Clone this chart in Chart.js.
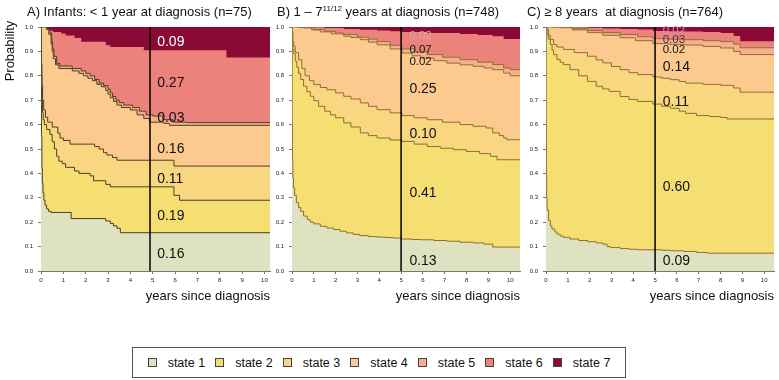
<!DOCTYPE html>
<html>
<head>
<meta charset="utf-8">
<script src="https://cdn.jsdelivr.net/npm/chart.js@4.4.0/dist/chart.umd.min.js"></script>
<style>
  body { margin: 0; background: #fff; font-family: "Liberation Sans", Arial, sans-serif; }
  #wrap { position: relative; width: 779px; height: 380px; overflow: hidden; }
  canvas { position: absolute; top: 0; }
  .title { position: absolute; top: 4px; font-size: 13px; line-height: 16px; color: #111; white-space: pre; }
  .title sup { font-size: 8px; vertical-align: 5px; line-height: 0; }
  #ylab { position: absolute; left: -30px; top: 43px; width: 80px; height: 16px; line-height: 16px;
          text-align: center; font-size: 13px; transform: rotate(-90deg); color: #111; }
  #legend { position: absolute; left: 132px; top: 347px; width: 492px; height: 29px;
            border: 1px solid #555; display: flex; align-items: center; justify-content: center; }
  .item { display: flex; align-items: center; margin: 0 5px; font-size: 12.5px; color: #111;
          white-space: nowrap; flex-shrink: 0; }
  .sq { width: 7px; height: 7px; border: 1px solid #444; margin-right: 11px; flex-shrink: 0; }
</style>
</head>
<body>
<div id="wrap">
  <canvas id="chartA" width="272" height="305" style="left:0px"></canvas>
  <canvas id="chartB" width="250" height="305" style="left:272px"></canvas>
  <canvas id="chartC" width="253" height="305" style="left:526px"></canvas>
  <div class="title" style="left:27px">A) Infants: &lt; 1 year at diagnosis (n=75)</div>
  <div class="title" style="left:277px">B) 1 – 7<sup>11/12</sup> years at diagnosis (n=748)</div>
  <div class="title" style="left:527px">C) ≥ 8 years  at diagnosis (n=764)</div>
  <div id="ylab">Probability</div>
  <div id="legend"></div>
</div>
<script>
// states, bottom to top
const stateNames = ['state 1', 'state 2', 'state 3', 'state 4', 'state 5', 'state 6', 'state 7'];
const stateColors = ['#dfe2c1', '#f5de72', '#f9d680', '#fcc98e', '#f7b08f', '#ec827c', '#8b0a35'];

const xTicks = [0, 1, 2, 3, 4, 5, 6, 7, 8, 9, 10];
const yTicks = [0, 0.1, 0.2, 0.3, 0.4, 0.5, 0.6, 0.7, 0.8, 0.9, 1.0];

// cumulative probability curves [years, P(state <= k)]
// A) infants
const aCum1 = [[0,1],[0.01,0.75],[0.02,0.55],[0.04,0.42],[0.06,0.36],[0.09,0.32],[0.13,0.29],[0.18,0.27],[0.25,0.255],[0.33,0.245],[0.45,0.24],[1.35,0.215],[2.9,0.205],[3.1,0.195],[3.25,0.185],[3.4,0.175],[3.55,0.157],[10.25,0.157]];
const aCum2 = [[0,1],[0.01,0.9],[0.02,0.8],[0.04,0.7],[0.07,0.65],[0.1,0.62],[0.15,0.6],[0.25,0.58],[0.4,0.56],[0.5,0.53],[0.6,0.5],[0.7,0.47],[0.8,0.45],[0.95,0.44],[1.1,0.425],[1.5,0.41],[1.7,0.4],[2.2,0.39],[2.35,0.37],[2.9,0.355],[3.1,0.345],[5.95,0.31],[6.2,0.29],[10.25,0.29]];
const aCum3 = [[0,1],[0.01,0.93],[0.02,0.85],[0.04,0.76],[0.07,0.7],[0.12,0.66],[0.2,0.63],[0.3,0.61],[0.5,0.59],[0.75,0.565],[0.85,0.545],[1.0,0.535],[1.3,0.52],[2.4,0.51],[2.6,0.5],[2.8,0.485],[2.95,0.475],[3.2,0.465],[3.4,0.454],[5.95,0.43],[10.25,0.43]];
const aCum4 = [[0,1],[0.25,0.99],[0.35,0.97],[0.45,0.93],[0.5,0.9],[0.55,0.87],[0.65,0.845],[0.8,0.83],[1.4,0.82],[1.7,0.81],[1.9,0.8],[2.1,0.79],[2.3,0.78],[2.5,0.765],[2.7,0.755],[2.9,0.74],[3.0,0.725],[3.1,0.71],[3.25,0.695],[3.4,0.68],[3.6,0.67],[4.0,0.66],[4.3,0.64],[4.6,0.625],[4.85,0.61],[5.5,0.605],[5.75,0.597],[10.25,0.597]];
const aCum5 = [[0,1],[0.3,0.99],[0.4,0.975],[0.48,0.94],[0.52,0.91],[0.58,0.88],[0.7,0.85],[0.85,0.84],[1.4,0.83],[1.8,0.82],[2.0,0.81],[2.2,0.8],[2.4,0.785],[2.6,0.77],[2.8,0.76],[3.0,0.745],[3.1,0.73],[3.2,0.715],[3.35,0.7],[3.5,0.69],[3.7,0.68],[4.1,0.67],[4.4,0.655],[4.7,0.64],[5.0,0.635],[5.45,0.62],[5.9,0.61],[6.5,0.608],[10.25,0.608]];
const aCum6 = [[0,1],[0.1,0.995],[0.2,0.99],[0.4,0.985],[0.55,0.98],[0.9,0.973],[1.1,0.965],[1.5,0.955],[1.8,0.94],[2.9,0.925],[3.1,0.918],[4.6,0.905],[8.3,0.875],[10.25,0.875]];

// B) 1 - 7 11/12 years
const bCum1 = [[0,1],[0.01,0.6],[0.02,0.45],[0.04,0.38],[0.07,0.34],[0.12,0.31],[0.2,0.28],[0.3,0.26],[0.4,0.245],[0.53,0.225],[0.7,0.21],[0.84,0.2],[1.0,0.193],[1.3,0.183],[1.6,0.176],[1.9,0.17],[2.2,0.163],[2.5,0.156],[2.8,0.15],[3.1,0.145],[3.5,0.141],[3.9,0.139],[4.3,0.137],[4.65,0.135],[5.0,0.131],[5.5,0.129],[5.9,0.128],[6.5,0.125],[7.1,0.122],[7.7,0.118],[8.3,0.115],[8.8,0.11],[9.2,0.098],[10.45,0.098]];
const bCum2 = [[0,1],[0.01,0.96],[0.03,0.91],[0.08,0.89],[0.15,0.86],[0.22,0.835],[0.3,0.81],[0.4,0.785],[0.53,0.757],[0.68,0.735],[0.84,0.716],[1.0,0.698],[1.22,0.675],[1.5,0.655],[1.76,0.64],[2.0,0.628],[2.37,0.607],[2.7,0.59],[3.13,0.566],[3.5,0.555],[3.9,0.545],[4.5,0.537],[5.04,0.531],[5.6,0.52],[6.2,0.51],[6.8,0.503],[7.4,0.497],[8.0,0.49],[8.6,0.481],[9.1,0.47],[9.4,0.456],[10.45,0.456]];
const bCum3 = [[0,1],[0.01,0.98],[0.04,0.94],[0.08,0.92],[0.15,0.895],[0.3,0.866],[0.45,0.83],[0.6,0.8],[0.8,0.78],[1.0,0.764],[1.3,0.752],[1.6,0.743],[2.0,0.73],[2.37,0.716],[2.7,0.705],[3.13,0.689],[3.5,0.675],[3.9,0.661],[4.5,0.648],[5.04,0.637],[5.6,0.628],[6.2,0.62],[6.9,0.61],[7.7,0.6],[8.3,0.593],[8.9,0.586],[9.2,0.566],[9.5,0.555],[9.7,0.545],[9.85,0.538],[10.45,0.538]];
const bCum4 = [[0,1],[0.3,0.998],[0.53,0.996],[0.9,0.988],[1.3,0.98],[1.8,0.972],[2.37,0.962],[2.7,0.957],[3.13,0.948],[3.5,0.938],[3.9,0.927],[4.5,0.91],[5.04,0.893],[5.5,0.882],[5.9,0.873],[6.5,0.862],[7.1,0.852],[7.7,0.845],[8.3,0.839],[8.8,0.832],[9.2,0.825],[9.7,0.811],[10.0,0.8],[10.45,0.8]];
const bCum5 = [[0,1],[0.3,0.999],[0.53,0.997],[1.0,0.99],[1.5,0.982],[2.0,0.975],[2.37,0.969],[3.0,0.958],[3.5,0.95],[3.9,0.94],[4.5,0.925],[5.04,0.91],[5.6,0.898],[6.2,0.887],[6.9,0.876],[7.7,0.866],[8.5,0.856],[9.2,0.846],[9.7,0.832],[10.0,0.825],[10.45,0.825]];
const bCum6 = [[0,1],[0.84,0.999],[1.5,0.996],[2.37,0.992],[3.1,0.989],[3.9,0.986],[4.5,0.983],[5.04,0.98],[6.2,0.975],[7.7,0.971],[8.5,0.967],[9.2,0.962],[9.7,0.951],[10.45,0.951]];

// C) >= 8 years
const cCum1 = [[0,1],[0.01,0.6],[0.02,0.4],[0.03,0.3],[0.05,0.25],[0.12,0.206],[0.2,0.185],[0.27,0.172],[0.4,0.16],[0.5,0.151],[0.65,0.143],[0.8,0.138],[1.1,0.131],[1.5,0.125],[1.9,0.12],[2.3,0.115],[2.6,0.11],[2.8,0.1],[2.95,0.096],[3.4,0.092],[3.8,0.089],[4.2,0.087],[5.3,0.085],[5.7,0.083],[6.3,0.08],[6.9,0.076],[7.4,0.073],[10.45,0.073]];
const cCum2 = [[0,1],[0.02,0.99],[0.05,0.97],[0.1,0.95],[0.2,0.928],[0.28,0.905],[0.35,0.887],[0.5,0.867],[0.65,0.855],[0.8,0.846],[1.1,0.825],[1.5,0.8],[1.9,0.777],[2.3,0.757],[2.6,0.746],[2.9,0.736],[3.4,0.715],[3.8,0.703],[4.2,0.695],[4.9,0.684],[5.3,0.675],[5.7,0.667],[6.1,0.655],[6.4,0.646],[6.9,0.637],[7.5,0.633],[8.0,0.629],[8.3,0.623],[10.45,0.623]];
const cCum3 = [[0,1],[0.05,0.99],[0.12,0.965],[0.2,0.949],[0.35,0.928],[0.5,0.918],[0.8,0.908],[1.3,0.895],[1.9,0.88],[2.3,0.865],[2.6,0.853],[3.0,0.838],[3.4,0.825],[3.8,0.813],[4.2,0.805],[4.9,0.795],[5.3,0.79],[5.7,0.784],[6.1,0.777],[6.4,0.77],[7.2,0.765],[8.0,0.761],[8.6,0.75],[8.9,0.733],[10.45,0.733]];
const cCum4 = [[0,1],[0.3,0.999],[0.65,0.997],[1.2,0.988],[1.9,0.977],[2.6,0.966],[3.4,0.956],[4.1,0.944],[4.9,0.932],[5.6,0.929],[6.4,0.926],[7.2,0.92],[8.0,0.914],[8.6,0.9],[8.9,0.887],[10.45,0.887]];
const cCum5 = [[0,1],[0.6,0.999],[1.2,0.993],[1.9,0.985],[2.6,0.977],[3.4,0.969],[4.2,0.96],[4.9,0.952],[5.6,0.95],[6.4,0.948],[7.2,0.944],[8.0,0.94],[8.6,0.93],[8.9,0.915],[10.45,0.915]];
const cCum6 = [[0,1],[1.1,0.999],[1.9,0.997],[2.6,0.994],[3.4,0.992],[4.2,0.99],[4.9,0.984],[5.6,0.983],[6.4,0.982],[7.2,0.979],[8.0,0.975],[8.6,0.963],[8.9,0.942],[10.45,0.942]];

// state probabilities at 5 years, printed right of the marker line (top to bottom)
const aLabels = ['0.09', '0.27', '0.03', '0.16', '0.11', '0.19', '0.16'];
const aLabelY = [0.937, 0.77, 0.625, 0.50, 0.378, 0.224, 0.071];
const bLabels = ['0.02', '0.07', '0.02', '0.25', '0.10', '0.41', '0.13'];
const bLabelY = [0.962, 0.907, 0.857, 0.746, 0.559, 0.32, 0.04];
const cLabels = ['0.02', '0.03', '0.02', '0.14', '0.11', '0.60', '0.09'];
const cLabelY = [0.983, 0.949, 0.908, 0.836, 0.69, 0.344, 0.041];

// legend
const legendEl = document.getElementById('legend');
stateNames.forEach(function (name, i) {
    const item = document.createElement('div');
    item.className = 'item';
    item.innerHTML = '<span class="sq" style="background:' + stateColors[i] + '"></span>' + name;
    legendEl.appendChild(item);
});

function toPoints(pairs) {
    return pairs.map(p => ({ x: p[0], y: p[1] }));
}

// vertical line at 5 years + the printed probabilities
const markerPlugin = {
    id: 'marker',
    afterDatasetsDraw(chart, args, opts) {
        const ctx = chart.ctx;
        const xs = chart.scales.x, ys = chart.scales.y;
        const px = xs.getPixelForValue(opts.year);
        ctx.save();
        ctx.strokeStyle = '#000';
        ctx.lineWidth = 1.5;
        ctx.beginPath();
        ctx.moveTo(px, ys.getPixelForValue(0));
        ctx.lineTo(px, ys.getPixelForValue(1));
        ctx.stroke();
        ctx.textAlign = 'left';
        ctx.textBaseline = 'middle';
        const lx = xs.getPixelForValue(opts.labelX);
        opts.labels.forEach(function (txt, i) {
            ctx.font = opts.sizes[i] + 'px "Liberation Sans", Arial, sans-serif';
            ctx.fillStyle = opts.colors[i];
            ctx.fillText(txt, lx, ys.getPixelForValue(opts.labelY[i]));
        });
        ctx.restore();
    }
};

function makePanel(id, curves, xMax, lineColor, yWidth, padRight, marker) {
    const datasets = curves.map(function (c, i) {
        return {
            data: toPoints(c),
            stepped: true,
            fill: 'origin',
            backgroundColor: stateColors[i],
            borderColor: lineColor,
            borderWidth: i === 5 ? 0 : 1,
            pointRadius: 0
        };
    });
    // state 7 fills everything above the last curve
    datasets.push({
        data: toPoints([[0, 1], [xMax, 1]]),
        fill: 'origin',
        backgroundColor: stateColors[6],
        borderWidth: 0,
        pointRadius: 0
    });

    return new Chart(document.getElementById(id), {
        type: 'line',
        data: { datasets: datasets },
        plugins: [markerPlugin],
        options: {
            responsive: false,
            animation: false,
            layout: { padding: { top: 27, right: padRight, left: 0, bottom: 0 } },
            plugins: {
                legend: { display: false },
                tooltip: { enabled: false },
                marker: marker
            },
            scales: {
                x: {
                    type: 'linear',
                    min: 0,
                    max: xMax,
                    afterBuildTicks: s => { s.ticks = xTicks.map(v => ({ value: v })); },
                    afterFit: s => { s.height = 34; },
                    ticks: { font: { size: 6, family: 'Liberation Sans' }, color: '#222', padding: 3, maxRotation: 0, autoSkip: false },
                    grid: { drawOnChartArea: false, tickLength: 3, color: '#777' },
                    border: { color: '#777' },
                    title: {
                        display: true,
                        text: 'years since diagnosis',
                        align: 'end',
                        color: '#111',
                        font: { size: 13, family: 'Liberation Sans' },
                        padding: { top: 0, bottom: 1 }
                    }
                },
                y: {
                    min: 0,
                    max: 1,
                    afterBuildTicks: s => { s.ticks = yTicks.map(v => ({ value: v })); },
                    afterFit: s => { s.width = yWidth; },
                    ticks: { font: { size: 6, family: 'Liberation Sans' }, color: '#222', padding: 5, callback: v => v.toFixed(1) },
                    grid: { drawOnChartArea: false, tickLength: 3, color: '#777' },
                    border: { color: '#777' }
                }
            }
        }
    });
}

const bigFont = [14, 14, 14, 14, 14, 14, 14];
const smallTop = [11.5, 11.5, 11.5, 14, 14, 14, 14];

makePanel('chartA', [aCum1, aCum2, aCum3, aCum4, aCum5, aCum6], 10.25, '#4a4020', 41, 2, {
    year: 4.88, labelX: 5.2, labels: aLabels, labelY: aLabelY, sizes: bigFont,
    colors: ['#fff', '#111', '#111', '#111', '#111', '#111', '#111']
});
makePanel('chartB', [bCum1, bCum2, bCum3, bCum4, bCum5, bCum6], 10.45, '#8c7030', 20, 2, {
    year: 5, labelX: 5.38, labels: bLabels, labelY: bLabelY, sizes: smallTop,
    colors: ['#d9a9b0', '#111', '#111', '#111', '#111', '#111', '#111']
});
makePanel('chartC', [cCum1, cCum2, cCum3, cCum4, cCum5, cCum6], 10.45, '#8c7030', 20, 5, {
    year: 5, labelX: 5.35, labels: cLabels, labelY: cLabelY, sizes: smallTop,
    colors: ['#c98fb8', '#4d3045', '#111', '#111', '#111', '#111', '#111']
});
</script>
</body>
</html>
